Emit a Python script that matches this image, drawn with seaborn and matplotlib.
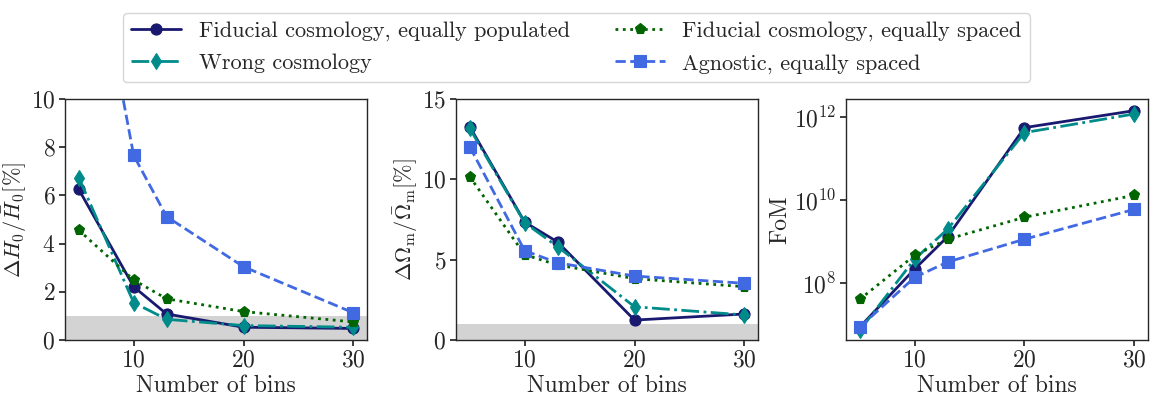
import numpy as np
import matplotlib
matplotlib.use("Agg")
import matplotlib.pyplot as plt
import seaborn as sns
from matplotlib.ticker import FixedLocator, NullLocator

# Number of redshift bins
bins = [5, 10, 13, 20, 30]

# Relative error on H0 [%]
h0_fid_pop = [6.25, 2.21, 1.08, 0.53, 0.48]
h0_wrong = [6.74, 1.55, 0.86, 0.60, 0.53]
h0_fid_spaced = [4.56, 2.49, 1.71, 1.18, 0.75]
h0_agnostic = [19.8, 7.66, 5.12, 3.04, 1.13]

# Relative error on Omega_m [%]
om_fid_pop = [13.28, 7.34, 6.10, 1.24, 1.62]
om_wrong = [13.17, 7.30, 5.81, 2.07, 1.56]
om_fid_spaced = [10.17, 5.31, 4.67, 3.82, 3.32]
om_agnostic = [12.03, 5.56, 4.81, 3.98, 3.53]

# Figure of merit (log10)
fom_fid_pop = [6.94, 8.34, 9.12, 11.75, 12.16]
fom_wrong = [6.86, 8.58, 9.30, 11.63, 12.08]
fom_fid_spaced = [7.61, 8.67, 9.06, 9.59, 10.12]
fom_agnostic = [6.94, 8.14, 8.51, 9.06, 9.78]

labels = [
    "Fiducial cosmology, equally populated",
    "Wrong cosmology",
    "Fiducial cosmology, equally spaced",
    "Agnostic, equally spaced",
]

sns.set_theme(style="ticks")
plt.rcParams.update({
    "font.family": "serif",
    "font.serif": ["cmr10", "DejaVu Serif"],
    "mathtext.fontset": "cm",
    "axes.formatter.use_mathtext": True,
    "axes.edgecolor": "0.15",
    "axes.linewidth": 1.0,
    "xtick.color": "0.15",
    "ytick.color": "0.15",
    "text.color": "0.15",
    "axes.labelcolor": "0.15",
})

styles = [
    dict(color="#191970", marker="o", linestyle="-"),
    dict(color="#008B8B", marker="d", linestyle="-."),
    dict(color="#006400", marker="p", linestyle=":"),
    dict(color="#4169E1", marker="s", linestyle="--"),
]

fig = plt.figure(figsize=(11.53, 3.98), dpi=100)
left = [0.0564, 0.3955, 0.7337]
axes = [fig.add_axes([l, 0.1457, 0.262, 0.6055]) for l in left]

panels = [
    [h0_fid_pop, h0_wrong, h0_fid_spaced, h0_agnostic],
    [om_fid_pop, om_wrong, om_fid_spaced, om_agnostic],
    [[10 ** v for v in s] for s in [fom_fid_pop, fom_wrong, fom_fid_spaced, fom_agnostic]],
]

for ax, series in zip(axes, panels):
    for vals, st, lab in zip(series, styles, labels):
        sns.lineplot(x=bins, y=vals, ax=ax, color=st["color"], marker=st["marker"],
                     linestyle=st["linestyle"], linewidth=2, markersize=8,
                     markeredgewidth=0.8, markeredgecolor=st["color"],
                     label=lab, legend=False)
    ax.set_xlabel("Number of bins", fontsize=17, labelpad=2)
    ax.set_xticks([10, 20, 30])
    ax.tick_params(labelsize=17, direction="out", length=4, pad=3)

ax1, ax2, ax3 = axes
ax1.axhspan(0, 1, color="lightgrey", zorder=0, lw=0)
ax1.set_ylim(0, 10)
ax1.set_yticks([0, 2, 4, 6, 8, 10])
ax1.set_ylabel(r"$\Delta H_0/\bar{H}_0[\%]$", fontsize=16, labelpad=1)

ax2.axhspan(0, 1, color="lightgrey", zorder=0, lw=0)
ax2.set_ylim(0, 15)
ax2.set_yticks([0, 5, 10, 15])
ax2.set_ylabel(r"$\Delta\Omega_{\mathrm{m}}/\bar{\Omega}_{\mathrm{m}}[\%]$", fontsize=16, labelpad=1)

ax3.set_yscale("log")
ax3.set_ylim(10 ** 6.63, 10 ** 12.44)
ax3.yaxis.set_major_locator(FixedLocator([1e8, 1e10, 1e12]))
ax3.yaxis.set_minor_locator(NullLocator())
ax3.set_ylabel("FoM", fontsize=17, labelpad=2)

for ax in axes:
    ax.set_xlim(3.75, 31.25)

handles, labs = ax1.get_legend_handles_labels()
fig.legend(handles, labs,
           loc="upper center", bbox_to_anchor=(0.5, 0.995), ncol=2,
           fontsize=16, frameon=True, numpoints=1, handlelength=2.25,
           handletextpad=0.8, columnspacing=2.0, borderpad=0.38,
           labelspacing=0.55, edgecolor="0.8", fancybox=True)

fig.savefig("out.png", dpi=100)
